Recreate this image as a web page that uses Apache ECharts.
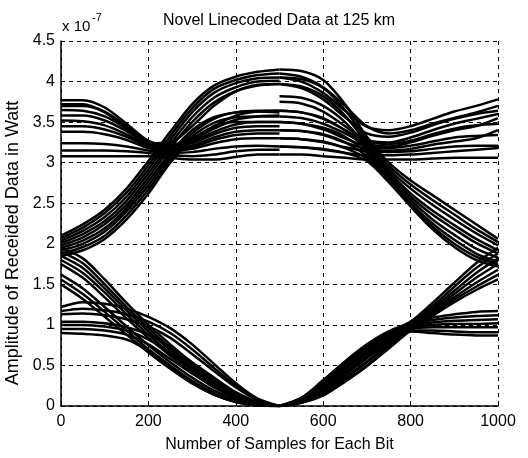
<!DOCTYPE html>
<html>
<head>
<meta charset="utf-8">
<script src="https://cdn.jsdelivr.net/npm/echarts@6/dist/echarts.min.js"></script>
<style>
html,body{margin:0;padding:0;background:#fff}
#chart{width:528px;height:458px}
</style>
</head>
<body>
<div id="chart"></div>
<script>
// Sample positions (samples within one bit) for the two halves of each bit window
const firstHalfSamples  = [0, 50, 100, 150, 200, 250, 300, 350, 400, 450, 500];
const secondHalfSamples = [500, 550, 600, 650, 700, 750, 800, 850, 900, 950, 1000];

// Axis ticks
const xTicks = [0, 200, 400, 600, 800, 1000];
const yTicks = [0, 0.5, 1, 1.5, 2, 2.5, 3, 3.5, 4, 4.5];

// Amplitudes are in units of 1e-7 W.
// Bit "1", first half, previous bit "1" (starts on the high rail)
const hiHi0  = [3.72, 3.72, 3.62, 3.42, 3.24, 3.25, 3.45, 3.70, 3.88, 3.96, 3.97];
const hiHi1  = [3.77, 3.77, 3.68, 3.48, 3.27, 3.22, 3.30, 3.45, 3.58, 3.63, 3.64];
const hiHi2  = [3.65, 3.64, 3.57, 3.42, 3.24, 3.19, 3.26, 3.38, 3.47, 3.50, 3.50];
const hiHi3  = [3.52, 3.51, 3.46, 3.35, 3.21, 3.16, 3.21, 3.31, 3.38, 3.40, 3.40];
const hiHi4  = [3.38, 3.38, 3.35, 3.28, 3.18, 3.14, 3.17, 3.24, 3.29, 3.30, 3.30];
const hiHi5  = [3.24, 3.24, 3.23, 3.20, 3.15, 3.12, 3.13, 3.17, 3.20, 3.21, 3.20];
const hiHi6  = [3.08, 3.08, 3.08, 3.08, 3.08, 3.06, 3.04, 3.04, 3.07, 3.10, 3.10];
const hiHi7  = [3.70, 3.70, 3.63, 3.45, 3.25, 3.20, 3.28, 3.42, 3.53, 3.57, 3.58];
const hiHi8  = [3.45, 3.45, 3.41, 3.32, 3.20, 3.15, 3.19, 3.28, 3.34, 3.36, 3.36];
const hiHi9  = [3.15, 3.15, 3.15, 3.14, 3.12, 3.09, 3.08, 3.10, 3.14, 3.16, 3.16];
const hiHi10 = [3.58, 3.58, 3.52, 3.39, 3.23, 3.18, 3.24, 3.35, 3.43, 3.45, 3.45];

// Bit "1", first half, previous bit "0" (rising edge)
const riseIn1 = [2.10, 2.24, 2.42, 2.68, 3.02, 3.38, 3.72, 3.95, 4.06, 4.12, 4.15];
const riseIn2 = [2.04, 2.16, 2.33, 2.58, 2.92, 3.28, 3.62, 3.86, 3.98, 4.04, 4.05];
const riseIn3 = [1.98, 2.08, 2.24, 2.48, 2.82, 3.18, 3.50, 3.74, 3.88, 3.95, 3.97];
const riseIn4 = [1.92, 2.00, 2.15, 2.40, 2.72, 3.08, 3.36, 3.54, 3.62, 3.64, 3.64];
const riseIn5 = [1.85, 1.92, 2.06, 2.30, 2.62, 3.00, 3.28, 3.44, 3.50, 3.50, 3.50];
const riseIn6 = [2.07, 2.20, 2.38, 2.63, 2.97, 3.33, 3.67, 3.91, 4.02, 4.08, 4.10];
const riseIn7 = [2.01, 2.12, 2.28, 2.53, 2.87, 3.23, 3.56, 3.80, 3.93, 4.00, 4.01];
const riseIn8 = [1.88, 1.96, 2.10, 2.35, 2.67, 3.04, 3.32, 3.49, 3.56, 3.57, 3.57];
const riseIn9 = [1.95, 2.04, 2.19, 2.44, 2.77, 3.12, 3.40, 3.56, 3.62, 3.63, 3.62];

// Bit "1", second half, next bit "1" (ends on the high rail)
const hiOut1  = [4.05, 4.00, 3.86, 3.64, 3.44, 3.40, 3.45, 3.54, 3.63, 3.70, 3.78];
const hiOut2  = [3.97, 3.92, 3.78, 3.56, 3.36, 3.32, 3.37, 3.46, 3.54, 3.60, 3.64];
const hiOut3  = [3.64, 3.62, 3.54, 3.40, 3.26, 3.23, 3.27, 3.35, 3.42, 3.46, 3.48];
const hiOut4  = [3.50, 3.48, 3.41, 3.30, 3.20, 3.18, 3.21, 3.26, 3.31, 3.33, 3.34];
const hiOut5  = [3.30, 3.29, 3.25, 3.19, 3.14, 3.13, 3.14, 3.17, 3.20, 3.21, 3.21];
const hiOut6  = [3.10, 3.10, 3.08, 3.06, 3.04, 3.04, 3.04, 3.05, 3.06, 3.06, 3.06];
const hiOut7  = [4.10, 4.06, 3.93, 3.70, 3.45, 3.36, 3.40, 3.48, 3.55, 3.62, 3.70];
const hiOut8  = [3.57, 3.55, 3.48, 3.36, 3.23, 3.20, 3.25, 3.33, 3.40, 3.45, 3.55];
const hiOut9  = [3.40, 3.39, 3.34, 3.25, 3.17, 3.15, 3.17, 3.22, 3.26, 3.30, 3.40];
const hiOut10 = [3.20, 3.19, 3.16, 3.12, 3.09, 3.09, 3.10, 3.12, 3.14, 3.16, 3.18];
const hiOut11 = [3.75, 3.73, 3.63, 3.45, 3.28, 3.25, 3.31, 3.40, 3.48, 3.54, 3.60];

// Bit "1", second half, next bit "0" (falling edge)
const fallOut1 = [4.15, 4.13, 4.02, 3.72, 3.32, 3.00, 2.78, 2.60, 2.42, 2.24, 2.06];
const fallOut2 = [3.97, 3.94, 3.82, 3.58, 3.24, 2.92, 2.68, 2.48, 2.30, 2.13, 1.98];
const fallOut3 = [3.64, 3.62, 3.55, 3.40, 3.16, 2.86, 2.58, 2.36, 2.18, 2.01, 1.88];
const fallOut4 = [3.40, 3.39, 3.35, 3.25, 3.08, 2.80, 2.50, 2.25, 2.05, 1.88, 1.78];
const fallOut5 = [3.20, 3.19, 3.17, 3.12, 3.02, 2.76, 2.46, 2.18, 1.96, 1.80, 1.72];
const fallOut6 = [4.05, 4.03, 3.92, 3.65, 3.28, 2.96, 2.73, 2.54, 2.36, 2.18, 2.02];
const fallOut7 = [3.50, 3.48, 3.43, 3.32, 3.12, 2.83, 2.54, 2.30, 2.11, 1.94, 1.83];
const fallOut8 = [3.30, 3.29, 3.26, 3.18, 3.05, 2.78, 2.48, 2.21, 2.00, 1.84, 1.75];
const fallOut9 = [3.82, 3.80, 3.70, 3.50, 3.20, 2.89, 2.62, 2.41, 2.23, 2.06, 1.92];

// Bit "0", first half, previous bit "0" (starts on the low rail)
const loIn1 = [1.22, 1.28, 1.26, 1.20, 1.10, 0.96, 0.76, 0.52, 0.28, 0.09, 0.00];
const loIn2 = [1.13, 1.14, 1.12, 1.07, 0.98, 0.84, 0.64, 0.43, 0.23, 0.07, 0.00];
const loIn3 = [1.04, 1.04, 1.02, 0.97, 0.88, 0.73, 0.54, 0.35, 0.17, 0.05, 0.00];
const loIn4 = [0.95, 0.95, 0.93, 0.88, 0.76, 0.58, 0.40, 0.24, 0.11, 0.03, 0.00];
const loIn5 = [0.90, 0.89, 0.87, 0.82, 0.68, 0.48, 0.28, 0.14, 0.05, 0.01, 0.00];
const loIn6 = [1.17, 1.20, 1.18, 1.13, 1.04, 0.90, 0.70, 0.47, 0.25, 0.08, 0.00];
const loIn7 = [1.00, 1.00, 0.98, 0.93, 0.82, 0.65, 0.47, 0.29, 0.13, 0.04, 0.00];

// Bit "0", first half, previous bit "1" (falling edge)
const fallIn1 = [1.95, 1.82, 1.56, 1.27, 1.00, 0.76, 0.53, 0.33, 0.16, 0.04, 0.00];
const fallIn2 = [1.85, 1.70, 1.45, 1.18, 0.92, 0.69, 0.47, 0.28, 0.13, 0.03, 0.00];
const fallIn3 = [1.75, 1.58, 1.34, 1.08, 0.84, 0.62, 0.41, 0.23, 0.10, 0.02, 0.00];
const fallIn4 = [1.62, 1.45, 1.22, 0.98, 0.75, 0.54, 0.35, 0.19, 0.08, 0.01, 0.00];
const fallIn5 = [1.50, 1.32, 1.10, 0.88, 0.66, 0.46, 0.28, 0.14, 0.05, 0.01, 0.00];
const fallIn6 = [1.90, 1.76, 1.50, 1.22, 0.96, 0.72, 0.50, 0.30, 0.14, 0.04, 0.00];
const fallIn7 = [1.80, 1.64, 1.40, 1.13, 0.88, 0.65, 0.44, 0.25, 0.11, 0.02, 0.00];
const fallIn8 = [1.56, 1.38, 1.16, 0.93, 0.70, 0.50, 0.31, 0.16, 0.06, 0.01, 0.00];

// Bit "0", second half, next bit "0" (ends on the low rail)
const loOut1 = [0.00, 0.10, 0.32, 0.55, 0.76, 0.92, 1.02, 1.09, 1.13, 1.16, 1.17];
const loOut2 = [0.00, 0.08, 0.26, 0.47, 0.68, 0.86, 0.98, 1.03, 1.05, 1.06, 1.07];
const loOut3 = [0.00, 0.06, 0.20, 0.39, 0.60, 0.80, 0.95, 0.97, 0.97, 0.97, 0.97];
const loOut4 = [0.00, 0.04, 0.14, 0.31, 0.50, 0.72, 0.92, 0.90, 0.88, 0.87, 0.87];
const loOut5 = [0.00, 0.09, 0.29, 0.51, 0.72, 0.89, 1.00, 1.06, 1.09, 1.11, 1.12];
const loOut6 = [0.00, 0.07, 0.23, 0.43, 0.64, 0.83, 0.96, 1.00, 1.01, 1.01, 1.02];
const loOut7 = [0.00, 0.05, 0.17, 0.35, 0.55, 0.76, 0.93, 0.93, 0.92, 0.91, 0.91];

// Bit "0", second half, next bit "1" (rising edge)
const riseOut1 = [0.00, 0.10, 0.31, 0.54, 0.75, 0.91, 1.04, 1.27, 1.52, 1.76, 1.95];
const riseOut2 = [0.00, 0.08, 0.25, 0.46, 0.67, 0.85, 1.00, 1.20, 1.42, 1.64, 1.82];
const riseOut3 = [0.00, 0.06, 0.19, 0.38, 0.59, 0.79, 0.96, 1.15, 1.34, 1.52, 1.68];
const riseOut4 = [0.00, 0.04, 0.13, 0.30, 0.49, 0.71, 0.93, 1.11, 1.28, 1.43, 1.56];
const riseOut5 = [0.00, 0.09, 0.28, 0.50, 0.71, 0.88, 1.02, 1.23, 1.47, 1.70, 1.88];
const riseOut6 = [0.00, 0.07, 0.22, 0.42, 0.63, 0.82, 0.98, 1.17, 1.38, 1.58, 1.75];
const riseOut7 = [0.00, 0.05, 0.16, 0.34, 0.54, 0.75, 0.94, 1.13, 1.31, 1.47, 1.62];

const firstHalfTraces = [
  hiHi0, hiHi1, hiHi2, hiHi3, hiHi4, hiHi5, hiHi6, hiHi7, hiHi8, hiHi9, hiHi10,
  riseIn1, riseIn2, riseIn3, riseIn4, riseIn5, riseIn6, riseIn7, riseIn8, riseIn9,
  loIn1, loIn2, loIn3, loIn4, loIn5, loIn6, loIn7,
  fallIn1, fallIn2, fallIn3, fallIn4, fallIn5, fallIn6, fallIn7, fallIn8];
const secondHalfTraces = [
  hiOut1, hiOut2, hiOut3, hiOut4, hiOut5, hiOut6, hiOut7, hiOut8, hiOut9, hiOut10, hiOut11,
  fallOut1, fallOut2, fallOut3, fallOut4, fallOut5, fallOut6, fallOut7, fallOut8, fallOut9,
  loOut1, loOut2, loOut3, loOut4, loOut5, loOut6, loOut7,
  riseOut1, riseOut2, riseOut3, riseOut4, riseOut5, riseOut6, riseOut7];

const FONT = "'Liberation Sans', Arial, Helvetica, sans-serif";

function traceSeries(xs, ys) {
  return {
    type: 'line',
    data: xs.map((x, i) => [x, ys[i]]),
    smooth: 0.3,
    showSymbol: false,
    silent: true,
    lineStyle: { color: '#000', width: 2.5 },
    z: 3
  };
}

const series = [];
firstHalfTraces.forEach(t => series.push(traceSeries(firstHalfSamples, t)));
secondHalfTraces.forEach(t => series.push(traceSeries(secondHalfSamples, t)));

const chart = echarts.init(document.getElementById('chart'), null, { renderer: 'canvas' });
chart.setOption({
  animation: false,
  backgroundColor: '#fff',
  grid: { left: 61, right: 30, top: 41, bottom: 43, containLabel: false },
  xAxis: {
    type: 'value', min: xTicks[0], max: xTicks[xTicks.length - 1], interval: 200,
    name: 'Number of Samples for Each Bit', nameLocation: 'middle', nameGap: 31,
    nameTextStyle: { color: '#000', fontSize: 16, fontFamily: FONT },
    axisLine: { show: true, lineStyle: { color: '#000', width: 1.5 } },
    axisTick: { show: true, inside: true, length: 4, lineStyle: { color: '#000' } },
    axisLabel: { color: '#000', fontSize: 16, fontFamily: FONT, margin: 8,
      formatter: v => String(v) },
    splitLine: { show: true, lineStyle: { color: '#000', width: 1, type: [4, 4] } }
  },
  yAxis: {
    type: 'value', min: yTicks[0], max: yTicks[yTicks.length - 1], interval: 0.5,
    axisLine: { show: true, lineStyle: { color: '#000', width: 1.5 } },
    axisTick: { show: true, inside: true, length: 4, lineStyle: { color: '#000' } },
    axisLabel: { color: '#000', fontSize: 16, fontFamily: FONT, margin: 6,
      formatter: v => String(v) },
    splitLine: { show: true, lineStyle: { color: '#000', width: 1, type: [4, 4] } }
  },
  graphic: [
    { type: 'text', x: 279, y: 21,
      style: { text: 'Novel Linecoded Data at 125 km', font: '16px ' + FONT,
        fill: '#000', textAlign: 'center', textVerticalAlign: 'middle' } },
    { type: 'text', x: 62, y: 27,
      style: { text: 'x 10', font: '15px ' + FONT, fill: '#000',
        textAlign: 'left', textVerticalAlign: 'middle' } },
    { type: 'text', x: 92, y: 18,
      style: { text: '-7', font: '11px ' + FONT, fill: '#000',
        textAlign: 'left', textVerticalAlign: 'middle' } },
    { type: 'text', x: 13, y: 243, rotation: Math.PI / 2,
      style: { text: 'Amplitude of Receided Data in Watt', font: '18px ' + FONT,
        fill: '#000', textAlign: 'center', textVerticalAlign: 'middle' } }
  ],
  series: series
});
</script>
</body>
</html>
